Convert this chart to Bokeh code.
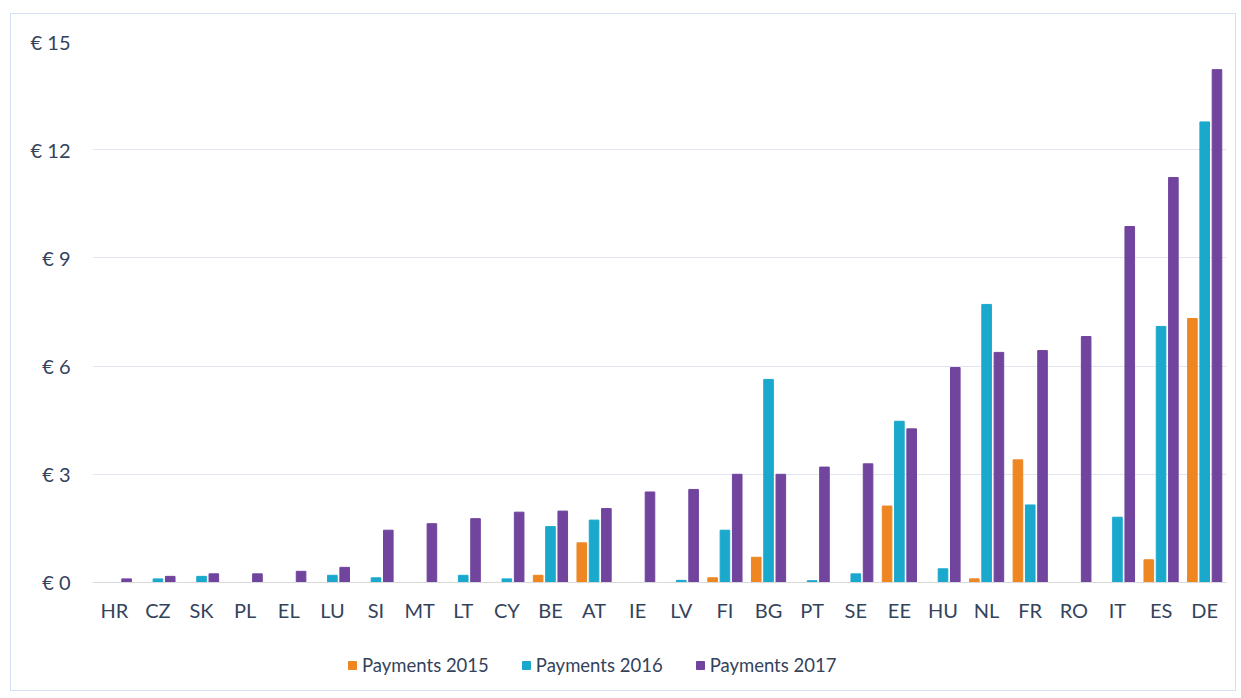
from bokeh.plotting import figure
from bokeh.models import ColumnDataSource, FactorRange, Range1d, FixedTicker, PrintfTickFormatter, Legend, LegendItem
from bokeh.transform import dodge
from bokeh.embed import file_html
from bokeh.resources import INLINE

countries = ["HR", "CZ", "SK", "PL", "EL", "LU", "SI", "MT", "LT", "CY", "BE", "AT", "IE",
             "LV", "FI", "BG", "PT", "SE", "EE", "HU", "NL", "FR", "RO", "IT", "ES", "DE"]
payments_2015 = [0, 0, 0, 0, 0, 0, 0, 0, 0, 0, 0.2, 1.1, 0,
                 0, 0.13, 0.7, 0, 0, 2.12, 0, 0.1, 3.4, 0, 0, 0.63, 7.32]
payments_2016 = [0, 0.1, 0.17, 0, 0, 0.2, 0.13, 0, 0.2, 0.1, 1.55, 1.73, 0,
                 0.06, 1.45, 5.63, 0.05, 0.24, 4.47, 0.38, 7.71, 2.15, 0, 1.81, 7.1, 12.77]
payments_2017 = [0.1, 0.17, 0.24, 0.24, 0.31, 0.42, 1.45, 1.63, 1.77, 1.95, 1.98, 2.05, 2.51,
                 2.58, 3.0, 3.0, 3.2, 3.29, 4.26, 5.96, 6.38, 6.43, 6.82, 9.87, 11.23, 14.22]
series_names = ["Payments 2015", "Payments 2016", "Payments 2017"]
y_ticks = [0, 3, 6, 9, 12, 15]

src = ColumnDataSource(dict(c=countries, p15=payments_2015, p16=payments_2016, p17=payments_2017))

FONT = "Lato"
TXT = "#34435c"
colors = ["#EE8622", "#1AA9CC", "#71449E"]

# the frame extends below zero so that the legend (drawn inside the frame) is visible
p = figure(x_range=FactorRange(*countries, range_padding=0), y_range=Range1d(-3.05, 15),
           width=1226, height=678, output_backend="svg", toolbar_location=None,
           min_border_left=81, min_border_right=11, min_border_top=27, min_border_bottom=0,
           background_fill_color="white", border_fill_color="white", outline_line_color=None)
p.margin = (13, 0, 0, 10)
p.styles = {"border": "1px solid #d3e1f2"}

off = 0.282
w = 0.22
r1 = p.vbar(x=dodge("c", -off, range=p.x_range), top="p15", bottom=0, width=w, source=src, color=colors[0])
r2 = p.vbar(x=dodge("c", 0, range=p.x_range), top="p16", bottom=0, width=w, source=src, color=colors[1])
r3 = p.vbar(x=dodge("c", off, range=p.x_range), top="p17", bottom=0, width=w, source=src, color=colors[2])

p.xgrid.grid_line_color = None
p.ygrid.grid_line_color = "#e1e5ef"
p.ygrid.ticker = FixedTicker(ticks=y_ticks[1:])

p.yaxis.ticker = FixedTicker(ticks=y_ticks)
p.yaxis.formatter = PrintfTickFormatter(format="€ %d")
p.yaxis.axis_line_color = None
p.yaxis.major_tick_line_color = None
p.yaxis.minor_tick_line_color = None
p.yaxis.major_label_standoff = 16

p.xaxis.fixed_location = 0
p.xaxis.axis_line_color = "#d9d9d9"
p.xaxis.major_tick_line_color = None
p.xaxis.minor_tick_line_color = None
p.xaxis.major_label_standoff = 10

for ax in (p.xaxis[0], p.yaxis[0]):
    ax.major_label_text_font = FONT
    ax.major_label_text_font_size = "20px"
    ax.major_label_text_color = TXT

legend = Legend(items=[LegendItem(label=series_names[0], renderers=[r1]),
                       LegendItem(label=series_names[1], renderers=[r2]),
                       LegendItem(label=series_names[2], renderers=[r3])],
                location=(255, 16), orientation="horizontal",
                glyph_width=10, glyph_height=10, label_standoff=5, spacing=32,
                padding=0, margin=0, label_height=20,
                label_text_font=FONT, label_text_font_size="18.5px", label_text_color=TXT,
                background_fill_alpha=0, border_line_color=None)
p.add_layout(legend, "center")

open("out.html", "w").write(file_html(p, INLINE))
